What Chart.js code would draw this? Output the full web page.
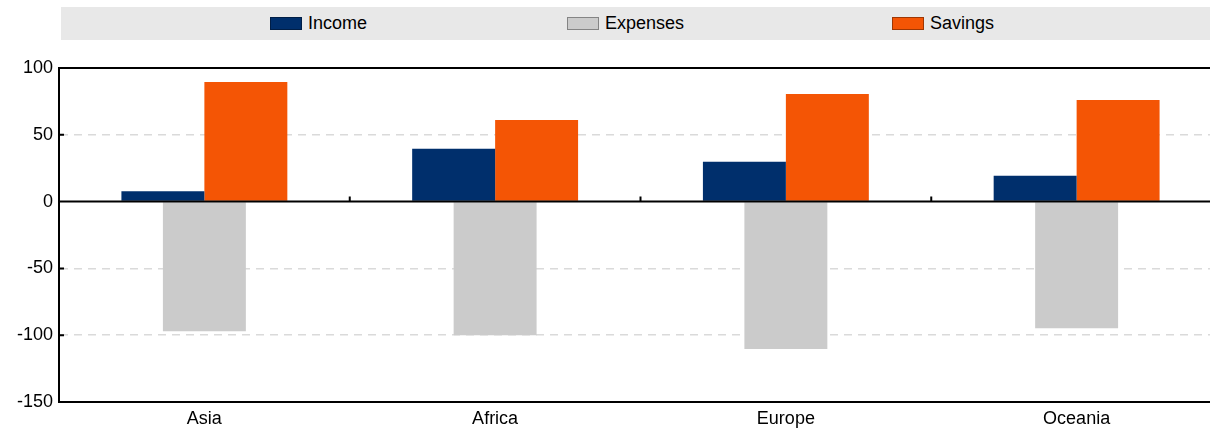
<!DOCTYPE html>
<html>
<head>
<meta charset="utf-8">
<script src="https://cdn.jsdelivr.net/npm/chart.js@4/dist/chart.umd.min.js"></script>
<style>
  html, body { margin: 0; padding: 0; background: #fff; }
  #wrap { position: relative; width: 1210px; height: 438px; overflow: hidden; }
  #chart { position: absolute; left: 0; top: 0; }
  #legend {
    position: absolute; left: 61px; top: 7px; width: 1149px; height: 33px;
    background: #e8e8e8; display: flex; align-items: center; justify-content: flex-start;
    padding-left: 209px; box-sizing: border-box;
    font: 18px "Liberation Sans", Arial, sans-serif; color: #000;
  }
  .item { display: flex; align-items: center; white-space: nowrap; }
  .item:nth-child(1) { width: 297px; }
  .item:nth-child(2) { width: 325px; }
  .swatch { width: 32px; height: 13px; margin-right: 6px; box-sizing: border-box; border: 1px solid rgba(0,0,0,0.35); }
</style>
</head>
<body>
<div id="wrap">
  <canvas id="chart" width="1222" height="438"></canvas>
  <div id="legend"></div>
</div>
<script>
const categories = ["Asia", "Africa", "Europe", "Oceania"];
const seriesNames = ["Income", "Expenses", "Savings"];
const seriesColors = ["#002f6c", "#cbcbcb", "#f45505"];
const incomeValues = [7.8, 39.5, 29.8, 19.4];
const expenseValues = [-97, -100, -110.4, -94.8];
const savingsValues = [89.5, 61.1, 80.6, 76.1];
const yTicks = [100, 50, 0, -50, -100, -150];

const font = { family: "'Liberation Sans', Arial, sans-serif", size: 18 };

// legend in a grey band above the plot
const legendEl = document.getElementById("legend");
seriesNames.forEach((name, i) => {
  const item = document.createElement("span");
  item.className = "item";
  const sw = document.createElement("span");
  sw.className = "swatch";
  sw.style.background = seriesColors[i];
  item.appendChild(sw);
  item.appendChild(document.createTextNode(name));
  legendEl.appendChild(item);
});

// zero line, top frame and the small inside tick marks
const framePlugin = {
  id: "frame",
  afterDatasetsDraw(chart) {
    const { ctx, chartArea: a, scales: { x, y } } = chart;
    const zero = y.getPixelForValue(0);
    ctx.save();
    ctx.strokeStyle = "#000";
    ctx.lineWidth = 2;
    ctx.beginPath();
    ctx.moveTo(a.left, zero); ctx.lineTo(a.right, zero);
    ctx.moveTo(a.left, a.top); ctx.lineTo(a.right, a.top);
    y.ticks.forEach(t => {
      const py = y.getPixelForValue(t.value);
      ctx.moveTo(a.left, py); ctx.lineTo(a.left + 5, py);
    });
    for (let i = 0; i < categories.length - 1; i++) {
      const px = (x.getPixelForValue(i) + x.getPixelForValue(i + 1)) / 2;
      ctx.moveTo(px, zero); ctx.lineTo(px, zero - 5);
    }
    ctx.stroke();
    ctx.restore();
  }
};

// three slots half a bar apart, bars twice the slot width so they overlap
const barOpts = { categoryPercentage: 0.428, barPercentage: 2 };

new Chart("chart", {
  type: "bar",
  data: {
    labels: categories,
    datasets: [
      { label: seriesNames[0], data: incomeValues, backgroundColor: seriesColors[0], ...barOpts },
      { label: seriesNames[1], data: expenseValues, backgroundColor: seriesColors[1], ...barOpts },
      { label: seriesNames[2], data: savingsValues, backgroundColor: seriesColors[2], ...barOpts }
    ]
  },
  options: {
    responsive: false,
    animation: false,
    layout: { padding: { top: 68, left: 0, right: 0, bottom: 0 } },
    plugins: { legend: { display: false }, tooltip: { enabled: false } },
    scales: {
      x: {
        offset: true,
        grid: { display: false, drawTicks: false },
        border: { color: "#000", width: 2 },
        ticks: { color: "#000", font: font, padding: 6 },
        afterFit: s => { s.height = 36; }
      },
      y: {
        min: -150,
        max: 100,
        afterBuildTicks: s => { s.ticks = yTicks.map(v => ({ value: v })); },
        grid: {
          drawTicks: false,
          lineWidth: 1.5,
          color: c => (c.tick && (c.tick.value === 0 || c.tick.value === 100 || c.tick.value === -150))
            ? "rgba(0,0,0,0)" : "#dadada"
        },
        border: { color: "#000", width: 2, dash: [8, 6] },
        ticks: { color: "#000", font: font, padding: 6 },
        afterFit: s => { s.width = 59; }
      }
    }
  },
  plugins: [framePlugin]
});
</script>
</body>
</html>
